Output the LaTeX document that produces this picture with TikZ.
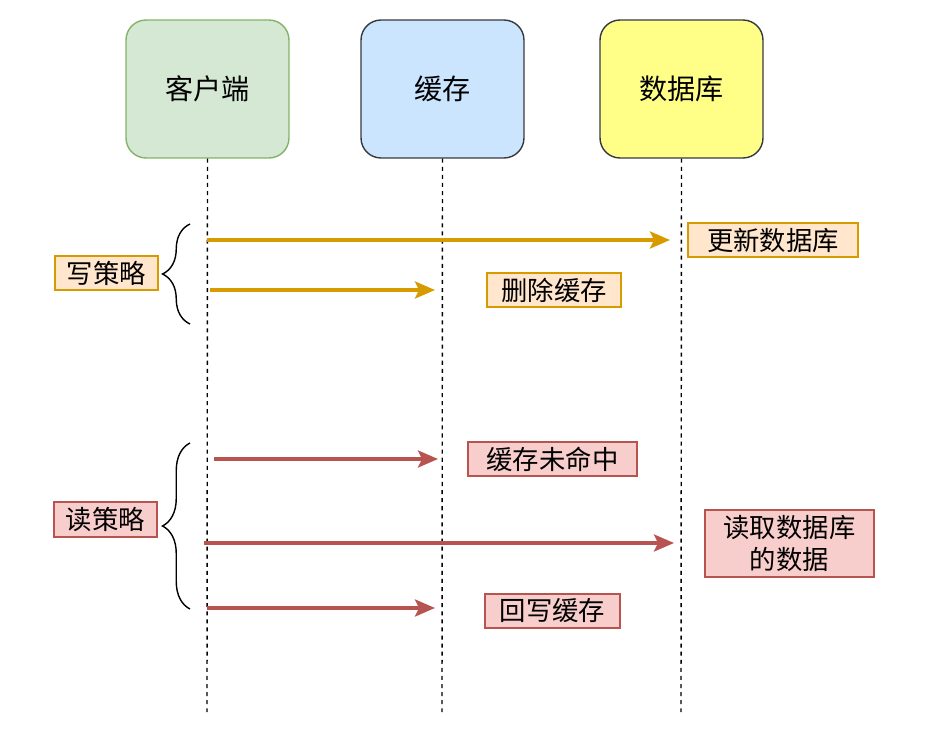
\documentclass[tikz,border=0pt]{standalone}
\usepackage{fontspec}
\setmainfont{Noto Sans CJK SC}
\usetikzlibrary{arrows.meta,positioning,decorations.pathreplacing}

\definecolor{clientfill}{HTML}{D5E8D4}
\definecolor{clientline}{HTML}{82B366}
\definecolor{cachefill}{HTML}{CCE5FF}
\definecolor{dbfill}{HTML}{FFFF88}
\definecolor{boxline}{HTML}{36393D}
\definecolor{writefill}{HTML}{FFE6CC}
\definecolor{writeline}{HTML}{D79B00}
\definecolor{readfill}{HTML}{F8CECC}
\definecolor{readline}{HTML}{B85450}

\begin{document}
\begin{tikzpicture}[x=0.02cm, y=-0.02cm, >={Stealth[length=0.4cm, width=0.34cm, inset=0.08cm]},
    actor/.style={draw, rounded corners=0.4cm, minimum width=3.26cm, minimum height=2.76cm,
        line width=0.8pt, font=\fontsize{16}{19}\selectfont},
    tag/.style={draw, line width=1pt, inner sep=0pt, minimum height=0.68cm,
        font=\fontsize{15}{18}\selectfont, align=center},
    lifeline/.style={dashed, dash pattern=on 2.3pt off 2.3pt, line width=0.8pt},
    msg/.style={->, line width=2pt},
    bracket/.style={decorate, decoration={brace, amplitude=0.55cm}, line width=0.8pt}]

    \useasboundingbox (0,0) rectangle (948,734);

    % participants
    \node[actor, fill=clientfill, draw=clientline] (client) at (207.5,89) {客户端};
    \node[actor, fill=cachefill, draw=boxline] (cache) at (442.5,89) {缓存};
    \node[actor, fill=dbfill, draw=boxline] (db) at (681.5,89) {数据库};

    \coordinate (clientend) at (207,712);
    \coordinate (cacheend) at (442,712);
    \coordinate (dbend) at (681,712);
    \draw[lifeline] (client.south) -- (clientend);
    \draw[lifeline] (cache.south) -- (cacheend);
    \draw[lifeline] (db.south) -- (dbend);

    % write strategy
    \node[tag, fill=writefill, draw=writeline, minimum width=2.06cm] (write) at (106.5,273) {写策略};
    \coordinate (wtop) at (190,224);
    \coordinate (wbot) at (190,324);
    \draw[bracket] (wbot) -- (wtop);

    \coordinate (w1s) at (207,240);
    \coordinate (w1e) at (670,240);
    \coordinate (w2s) at (210,290);
    \coordinate (w2e) at (435,290);
    \draw[msg, writeline] (w1s) -- (w1e);
    \draw[msg, writeline] (w2s) -- (w2e);
    \node[tag, fill=writefill, draw=writeline, minimum width=3.4cm] (updatedb) at (773,240) {更新数据库};
    \node[tag, fill=writefill, draw=writeline, minimum width=2.68cm] (delcache) at (554,290) {删除缓存};

    % read strategy
    \node[tag, fill=readfill, draw=readline, minimum width=2.06cm, minimum height=0.7cm] (read) at (105.5,519.5) {读策略};
    \coordinate (rtop) at (190,443);
    \coordinate (rbot) at (190,609);
    \draw[bracket] (rbot) -- (rtop);

    \coordinate (r1s) at (214,459);
    \coordinate (r1e) at (438,459);
    \coordinate (r2s) at (204,543);
    \coordinate (r2e) at (674,543);
    \coordinate (r3s) at (207,608);
    \coordinate (r3e) at (435,608);
    \draw[msg, readline] (r1s) -- (r1e);
    \draw[msg, readline] (r2s) -- (r2e);
    \draw[msg, readline] (r3s) -- (r3e);
    \node[tag, fill=readfill, draw=readline, minimum width=3.38cm] (miss) at (552.5,459) {缓存未命中};
    \node[tag, fill=readfill, draw=readline, minimum width=3.38cm, minimum height=1.34cm] (readdb) at (789.5,543.5) {读取数据库\\的数据};
    \node[tag, fill=readfill, draw=readline, minimum width=2.7cm] (writeback) at (552.5,611) {回写缓存};

\end{tikzpicture}
\end{document}
